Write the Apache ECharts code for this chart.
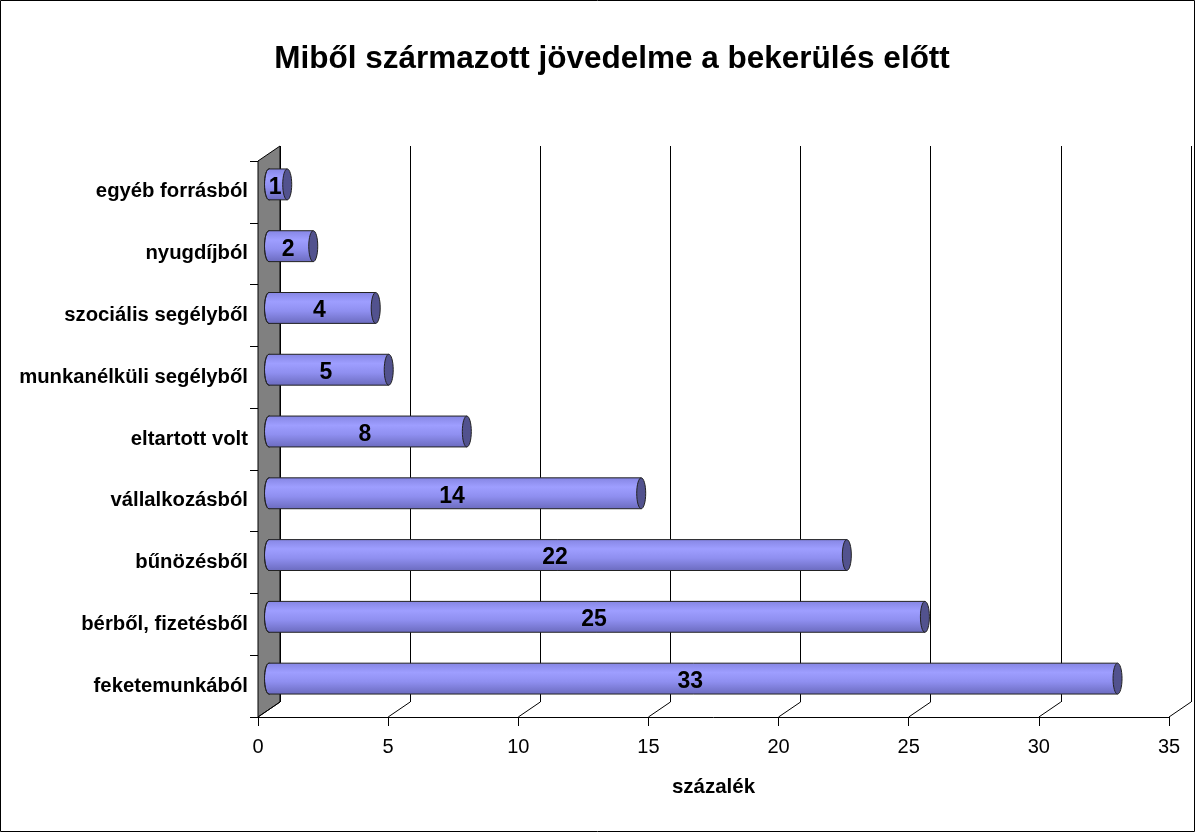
<!DOCTYPE html>
<html>
<head>
<meta charset="utf-8">
<script src="https://cdn.jsdelivr.net/npm/echarts@6/dist/echarts.min.js"></script>
<style>
  html, body { margin: 0; padding: 0; background: #fff; }
  #chart { width: 1195px; height: 832px; }
</style>
</head>
<body>
<div id="chart"></div>
<script>
  // jövedelemforrások, felülről lefelé
  const categories = [
    'egyéb forrásból',
    'nyugdíjból',
    'szociális segélyből',
    'munkanélküli segélyből',
    'eltartott volt',
    'vállalkozásból',
    'bűnözésből',
    'bérből, fizetésből',
    'feketemunkából',
  ];
  const shares = [0.7, 1.7, 4.1, 4.6, 7.6, 14.3, 22.2, 25.2, 32.6];
  const xTicks = [0, 5, 10, 15, 20, 25, 30, 35];

  const FONT = 'Arial, "Liberation Sans", sans-serif';
  // front plane of the 3D plot and the depth offset to the back wall
  const FRONT = { left: 258, top: 161, width: 911, height: 556 };
  const DX = 22;
  const DY = 15;

  const chart = echarts.init(document.getElementById('chart'));

  const renderCylinder = (params, api) => {
    const v = api.value(0);
    const i = api.value(1);
    const p0 = api.coord([0, i]);
    const p1 = api.coord([v, i]);
    const h = api.size([0, 1])[1] * 0.5;
    const ry = h / 2;
    const rx = 4.5;
    const body = new echarts.graphic.LinearGradient(0, 0, 0, 1, [
      { offset: 0, color: '#8686e4' },
      { offset: 0.3, color: '#9e9eff' },
      { offset: 0.6, color: '#8f8ff0' },
      { offset: 1, color: '#6c6cc0' },
    ]);
    return {
      type: 'group',
      children: [
        { type: 'ellipse', shape: { cx: p0[0], cy: p0[1], rx, ry }, style: { fill: body, stroke: '#222', lineWidth: 1 } },
        { type: 'rect', shape: { x: p0[0], y: p0[1] - ry, width: p1[0] - p0[0], height: h }, style: { fill: body } },
        { type: 'line', shape: { x1: p0[0], y1: p0[1] - ry, x2: p1[0], y2: p1[1] - ry }, style: { stroke: '#222', lineWidth: 1 } },
        { type: 'line', shape: { x1: p0[0], y1: p0[1] + ry, x2: p1[0], y2: p1[1] + ry }, style: { stroke: '#222', lineWidth: 1 } },
        { type: 'ellipse', shape: { cx: p1[0], cy: p1[1], rx, ry }, style: { fill: '#52528e', stroke: '#222', lineWidth: 1 } },
        {
          type: 'text',
          x: (p0[0] + p1[0]) / 2 - 3,
          y: p1[1] + 3,
          style: {
            text: String(Math.round(v)),
            font: 'bold 23px ' + FONT,
            fill: '#000',
            align: 'center',
            verticalAlign: 'middle',
          },
        },
      ],
    };
  };

  const option = {
    animation: false,
    title: {
      text: 'Miből származott jövedelme a bekerülés előtt',
      left: 607,
      top: 38,
      textAlign: 'center',
      textStyle: { fontFamily: FONT, fontSize: 31.5, fontWeight: 'bold', color: '#000' },
    },
    grid: [
      { ...FRONT, outerBoundsMode: 'none', containLabel: false },
      { left: FRONT.left + DX, top: FRONT.top - DY, width: FRONT.width, height: FRONT.height, outerBoundsMode: 'none' },
      { left: FRONT.left + DX / 2, top: FRONT.top - DY / 2, width: FRONT.width, height: FRONT.height, outerBoundsMode: 'none' },
    ],
    xAxis: [
      {
        gridIndex: 0,
        type: 'value',
        min: xTicks[0],
        max: xTicks[xTicks.length - 1],
        interval: xTicks[1] - xTicks[0],
        name: 'százalék',
        nameLocation: 'middle',
        nameGap: 60,
        nameTextStyle: { fontFamily: FONT, fontSize: 20.5, fontWeight: 'bold', color: '#000' },
        axisLine: { show: true, lineStyle: { color: '#000', width: 1 } },
        axisTick: { show: true, length: 9, lineStyle: { color: '#000' } },
        axisLabel: { fontFamily: FONT, fontSize: 20, color: '#000', margin: 20 },
        splitLine: { show: false },
      },
      {
        gridIndex: 1,
        type: 'value',
        min: xTicks[0],
        max: xTicks[xTicks.length - 1],
        interval: xTicks[1] - xTicks[0],
        axisLine: { show: false },
        axisTick: { show: false },
        axisLabel: { show: false },
        splitLine: { show: true, showMinLine: true, showMaxLine: true, lineStyle: { color: '#000', width: 1 } },
      },
      {
        gridIndex: 2,
        type: 'value',
        min: xTicks[0],
        max: xTicks[xTicks.length - 1],
        show: false,
      },
    ],
    yAxis: [
      {
        gridIndex: 0,
        type: 'category',
        inverse: true,
        data: categories,
        axisLine: { show: true, lineStyle: { color: '#000', width: 1 } },
        axisTick: { show: true, length: 8, lineStyle: { color: '#000' } },
        axisLabel: { fontFamily: FONT, fontSize: 20.3, fontWeight: 'bold', color: '#000', margin: 10 },
      },
      { gridIndex: 1, type: 'category', inverse: true, data: categories, show: false },
      { gridIndex: 2, type: 'category', inverse: true, data: categories, show: false },
    ],
    series: [
      {
        type: 'custom',
        xAxisIndex: 2,
        yAxisIndex: 2,
        clip: false,
        z: 5,
        encode: { x: 0, y: 1 },
        renderItem: renderCylinder,
        data: shares.map((v, i) => [v, i]),
      },
    ],
  };

  chart.setOption(option);

  // side wall, floor edges and outer frame
  const bottom = FRONT.top + FRONT.height;
  const floorLines = xTicks.map((t) => {
    const x = chart.convertToPixel({ xAxisIndex: 0 }, t);
    return {
      type: 'line',
      z: 1,
      shape: { x1: x, y1: bottom, x2: x + DX, y2: bottom - DY },
      style: { stroke: '#000', lineWidth: 1 },
    };
  });
  chart.setOption({
    graphic: [
      {
        type: 'polygon',
        z: 1,
        shape: {
          points: [
            [FRONT.left, FRONT.top],
            [FRONT.left + DX, FRONT.top - DY],
            [FRONT.left + DX, bottom - DY],
            [FRONT.left, bottom],
          ],
        },
        style: { fill: '#808080', stroke: '#000', lineWidth: 1 },
      },
      ...floorLines,
      {
        type: 'rect',
        z: 10,
        shape: { x: 0.5, y: 0.5, width: 1194, height: 831 },
        style: { fill: 'none', stroke: '#000', lineWidth: 1 },
      },
    ],
  });

  window.addEventListener('resize', () => chart.resize());
</script>
</body>
</html>
